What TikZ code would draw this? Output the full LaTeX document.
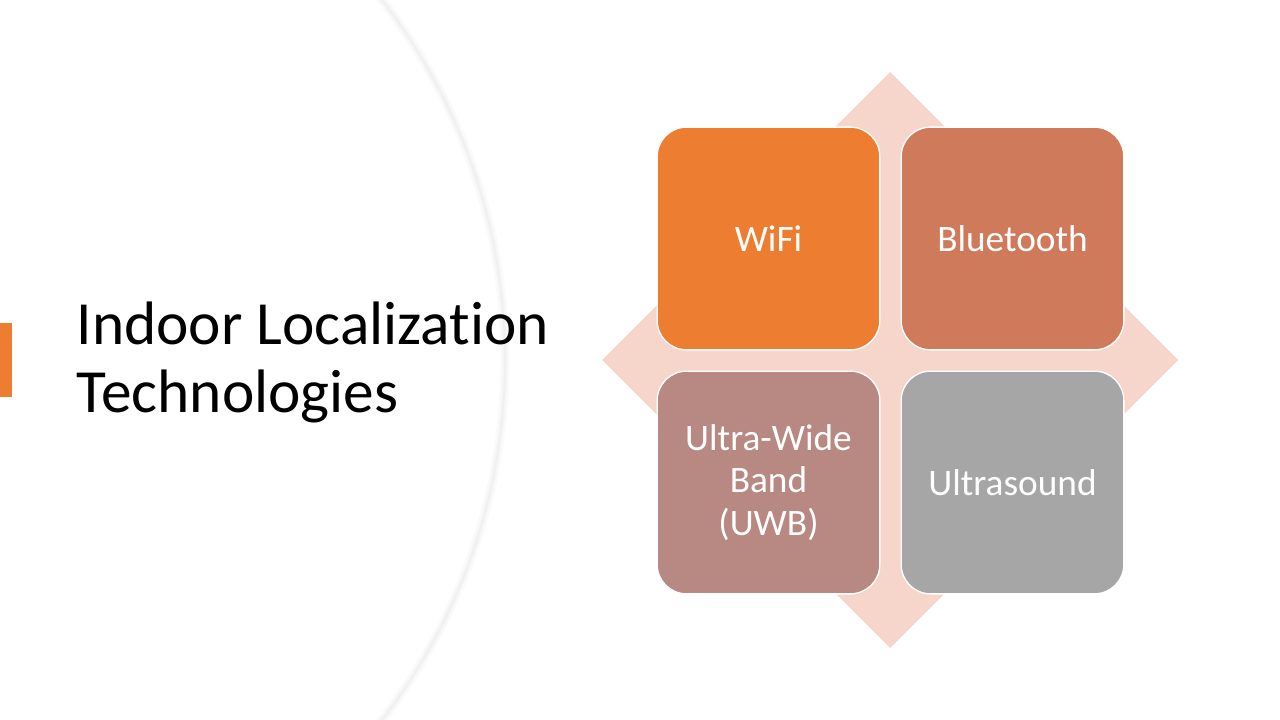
\documentclass[tikz,border=0pt]{standalone}
\usepackage{fontspec}
\setmainfont[Ligatures=NoCommon]{Carlito}
\usepackage{xcolor}
\definecolor{accent}{HTML}{ED7D31}
\definecolor{clay}{HTML}{CF7B5B}
\definecolor{rosewood}{HTML}{B88882}
\definecolor{ash}{HTML}{A6A6A6}
\definecolor{blush}{HTML}{F6D5CB}
\usetikzlibrary{positioning}

\begin{document}
\begin{tikzpicture}[x=0.75pt, y=-0.75pt,
    tile/.style={draw=white, line width=1pt, rounded corners=22pt,
      minimum width=167pt, minimum height=167pt, inner sep=0pt,
      text=white, align=center, font=\fontsize{28}{32}\selectfont}]
  \useasboundingbox (0,0) rectangle (1280,720);

  % Circle edge with soft shadow
  \draw[black!2, line width=7pt] (-83,360) ++(-40:588) arc[start angle=-40, end angle=40, radius=588];
  \draw[black!4, line width=3.5pt] (-83,360) ++(-40:588) arc[start angle=-40, end angle=40, radius=588];
  \draw[black!6, line width=1.2pt] (-83,360) ++(-40:588) arc[start angle=-40, end angle=40, radius=588];

  % Accent bar and title
  \fill[accent] (0,323) rectangle (12,397);
  \node[anchor=west, align=left, font=\fontsize{46}{51}\selectfont] (title) at (72,362)
    {Indoor Localization\\Technologies};

  % Diamond behind the tiles
  \fill[blush] (890,72) -- (1178,360) -- (890,648) -- (602,360) -- cycle;

  % Tiles
  \node[tile, fill=accent] (wifi) at (768.5,238.5) {WiFi};
  \node[tile, fill=clay, right=15pt of wifi] (bt) {Bluetooth};
  \node[tile, fill=rosewood, below=15pt of wifi] (uwb) {Ultra-Wide\\Band\\(UWB)};
  \node[tile, fill=ash, right=15pt of uwb] (us) {Ultrasound};
\end{tikzpicture}
\end{document}
